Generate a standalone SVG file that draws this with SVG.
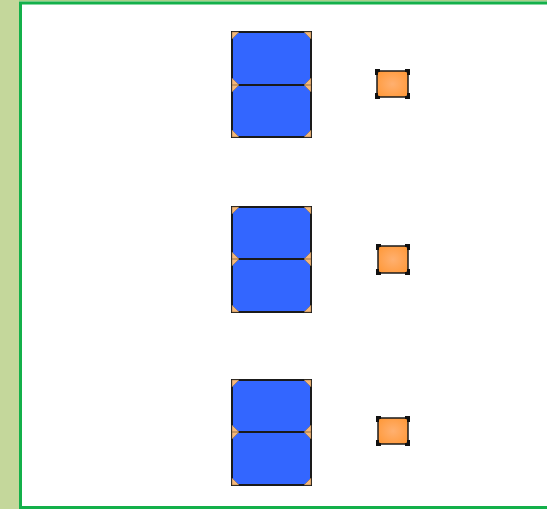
<svg xmlns="http://www.w3.org/2000/svg" width="547" height="509" viewBox="0 0 547 509">
<defs>
<radialGradient id="og" cx="50%" cy="50%" r="60%">
<stop offset="0" stop-color="#ffb070"/>
<stop offset="1" stop-color="#ff9a3c"/>
</radialGradient>
<style>
.blk{fill:#3366ff;stroke:#1a1a1a;stroke-width:2}
.tri{fill:#f5b87a;stroke:#8a6a40;stroke-width:0.5}
.sm{fill:url(#og);stroke:#1a1a1a;stroke-width:1.5}
.mk{fill:#111}
</style>
</defs>
<rect x="0" y="0" width="547" height="509" fill="#ffffff"/>
<rect x="0" y="0" width="19" height="509" fill="#c4d79b"/>
<rect x="19" y="0" width="528" height="1.5" fill="#a8d08a"/>
<g id="frame">
<rect x="20.5" y="3" width="530" height="504.5" fill="none" stroke="#13b04a" stroke-width="3"/>
</g>
<g id="stack1">
<rect class="blk" x="232" y="32" width="79" height="53"/>
<rect class="blk" x="232" y="85" width="79" height="52"/>
<path class="tri" d="M232,32h7l-7,7z M311,32h-7l7,7z M232,85v-7l7,7z M311,85v-7l-7,7z M232,85v7l7,-7z M311,85v7l-7,-7z M232,137v-7l7,7z M311,137v-7l-7,7z"/>
</g>
<g id="stack2">
<rect class="blk" x="232" y="207" width="79" height="52"/>
<rect class="blk" x="232" y="259" width="79" height="53"/>
<path class="tri" d="M232,207h7l-7,7z M311,207h-7l7,7z M232,259v-7l7,7z M311,259v-7l-7,7z M232,259v7l7,-7z M311,259v7l-7,-7z M232,312v-7l7,7z M311,312v-7l-7,7z"/>
</g>
<g id="stack3">
<rect class="blk" x="232" y="380" width="79" height="52"/>
<rect class="blk" x="232" y="432" width="79" height="53"/>
<path class="tri" d="M232,380h7l-7,7z M311,380h-7l7,7z M232,432v-7l7,7z M311,432v-7l-7,7z M232,432v7l7,-7z M311,432v7l-7,-7z M232,485v-7l7,7z M311,485v-7l-7,7z"/>
</g>
<g id="small1">
<rect class="sm" x="377" y="71" width="31" height="26" rx="3"/>
<path class="mk" d="M375,69h5v3h-2v3h-3z M410,69h-5v3h2v3h3z M375,99h5v-3h-2v-3h-3z M410,99h-5v-3h2v-3h3z"/>
</g>
<g id="small2">
<rect class="sm" x="378" y="246" width="30" height="27" rx="3"/>
<path class="mk" d="M376,244h5v3h-2v3h-3z M410,244h-5v3h2v3h3z M376,275h5v-3h-2v-3h-3z M410,275h-5v-3h2v-3h3z"/>
</g>
<g id="small3">
<rect class="sm" x="378" y="418" width="30" height="26" rx="3"/>
<path class="mk" d="M376,416h5v3h-2v3h-3z M410,416h-5v3h2v3h3z M376,446h5v-3h-2v-3h-3z M410,446h-5v-3h2v-3h3z"/>
</g>
<g id="connectors"></g>
</svg>
